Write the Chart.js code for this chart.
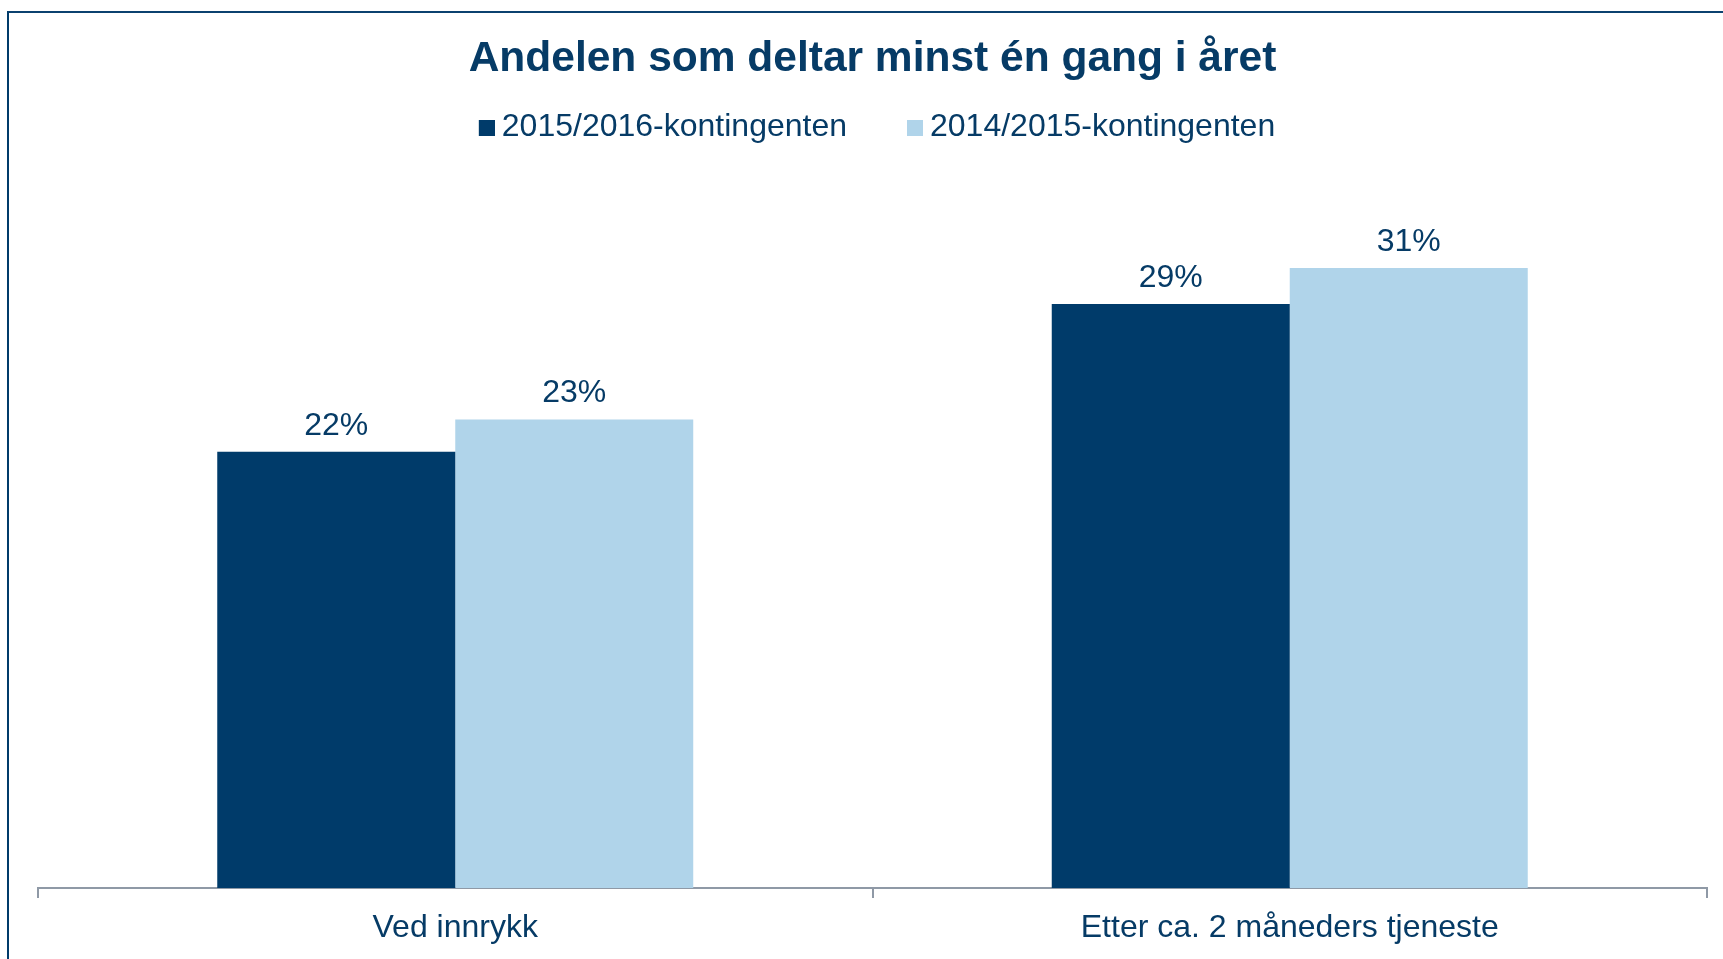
<!DOCTYPE html>
<html><head><meta charset="utf-8">
<script src="https://cdn.jsdelivr.net/npm/chart.js@4/dist/chart.umd.min.js"></script>
<style>
html,body{margin:0;padding:0;background:#fff;overflow:hidden;}
#wrap{position:absolute;left:0;top:0;width:1723px;height:959px;}
#frame{position:absolute;left:7px;top:10.5px;width:2000px;height:2000px;border-left:2px solid #003B6A;border-top:2px solid #0B416F;pointer-events:none;}
</style></head><body>
<div id="wrap"><canvas id="c" width="1723" height="959"></canvas></div>
<div id="frame"></div>
<script>
const categories = ['Ved innrykk', 'Etter ca. 2 måneders tjeneste'];
const seriesNames = ['2015/2016-kontingenten', '2014/2015-kontingenten'];
const values20152016 = [0.217, 0.2905];
const values20142015 = [0.233, 0.3085];
const yMax = 0.3654;

const NAVY = '#063B66';
const DARK = '#003B6A';
const LIGHT = '#B0D4EA';
const AXIS = '#8F99A6';
const FONT = '"Liberation Sans", Arial, sans-serif';

function legendSwatch(color) {
  const cv = document.createElement('canvas');
  cv.width = 34; cv.height = 16;
  const c = cv.getContext('2d');
  c.fillStyle = color;
  c.fillRect(18, 0, 16, 16);
  return cv;
}

const barLabels = {
  id: 'barLabels',
  afterDatasetsDraw(chart) {
    const ctx = chart.ctx;
    ctx.save();
    ctx.font = '32px ' + FONT;
    ctx.fillStyle = NAVY;
    ctx.textAlign = 'center';
    ctx.textBaseline = 'middle';
    chart.data.datasets.forEach((ds, di) => {
      const meta = chart.getDatasetMeta(di);
      meta.data.forEach((el, i) => {
        ctx.fillText(Math.round(ds.data[i] * 100) + '%', el.x, el.y - 26);
      });
    });
    ctx.restore();
  }
};

new Chart(document.getElementById('c'), {
  type: 'bar',
  data: {
    labels: categories,
    datasets: [
      { label: seriesNames[0], data: values20152016, backgroundColor: DARK, borderWidth: 0 },
      { label: seriesNames[1], data: values20142015, backgroundColor: LIGHT, borderWidth: 0 }
    ]
  },
  options: {
    responsive: false,
    animation: false,
    devicePixelRatio: 1,
    layout: { padding: { left: 38, right: 16, top: 0, bottom: -0.3 } },
    datasets: { bar: { barPercentage: 1.0, categoryPercentage: 0.5704 } },
    plugins: {
      tooltip: { enabled: false },
      title: {
        display: true,
        text: 'Andelen som deltar minst én gang i året',
        color: NAVY,
        font: { family: FONT, size: 42.5, weight: 'bold', lineHeight: 0.5 },
        padding: { top: 48.875, bottom: -9.6 }
      },
      legend: {
        display: true,
        position: 'top',
        labels: {
          color: NAVY,
          font: { family: FONT, size: 32 },
          usePointStyle: true,
          pointStyleWidth: 16,
          boxWidth: 16,
          boxHeight: 16,
          padding: 51,
          generateLabels(chart) {
            const items = Chart.defaults.plugins.legend.labels.generateLabels(chart);
            items.forEach((it, i) => {
              it.pointStyle = legendSwatch(chart.data.datasets[i].backgroundColor);
              it.fontColor = NAVY;
            });
            return items;
          }
        }
      }
    },
    scales: {
      x: {
        grid: { display: true, drawOnChartArea: false, drawTicks: true, tickLength: 10, color: AXIS, lineWidth: 2 },
        border: { display: true, color: AXIS, width: 2 },
        ticks: { color: NAVY, font: { family: FONT, size: 32 }, padding: 11.5, maxRotation: 0 }
      },
      y: { display: false, min: 0, max: yMax }
    }
  },
  plugins: [barLabels]
});
</script>
</body></html>
